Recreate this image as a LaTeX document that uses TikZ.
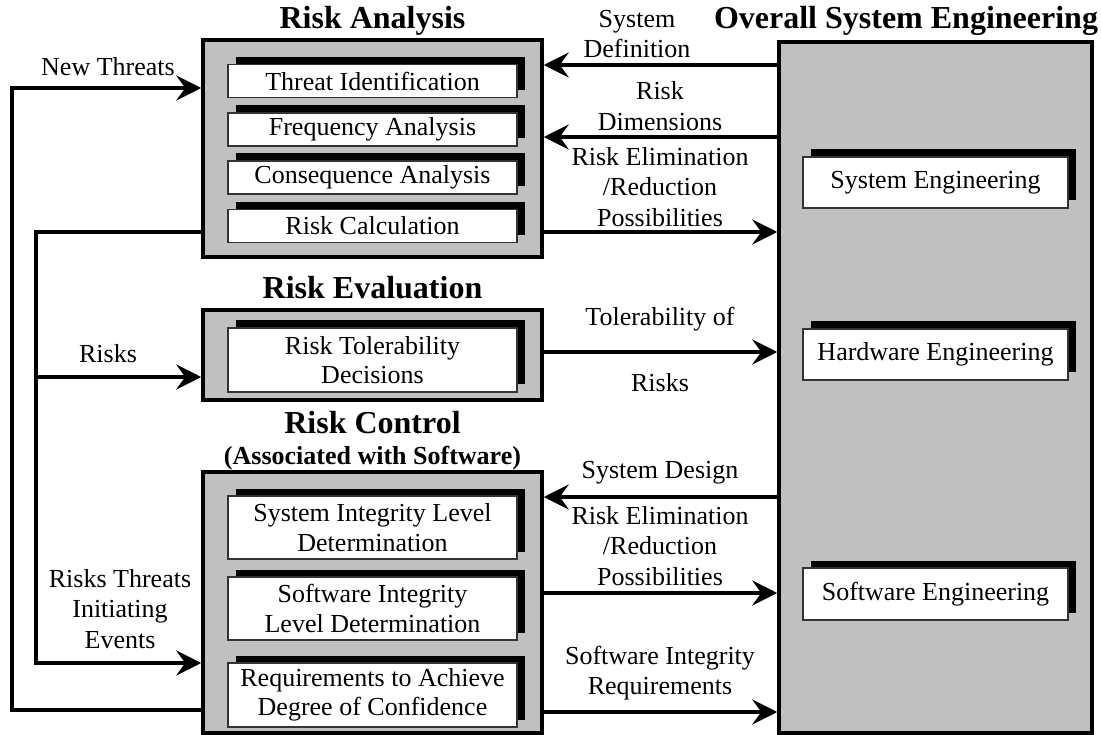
\documentclass[tikz,border=0pt]{standalone}
\usepackage{fontspec}
\setmainfont{Liberation Serif}
\usepackage{tikz}
\usetikzlibrary{arrows.meta,shadows}
\definecolor{panelgray}{RGB}{192,192,192}

\begin{document}
\begin{tikzpicture}[x=1pt, y=-1pt,
	font=\fontsize{26}{30.5}\selectfont,
	panel/.style={draw, line width=3.5pt, fill=panelgray, inner sep=0pt},
	task/.style={draw=black!80, line width=1.5pt, fill=white, align=center,
		inner sep=0pt, font=\fontsize{26}{29.5}\selectfont,
		drop shadow={shadow xshift=7.5pt, shadow yshift=7.5pt, fill=black, opacity=1}},
	head/.style={font=\bfseries\fontsize{32}{36}\selectfont},
	lbl/.style={align=center},
	flow/.style={line width=4pt, -{Stealth[length=25pt, width=25pt, inset=9pt]}}]
	\useasboundingbox (0,0) rectangle (1101,735);

	% panels
	\node[panel, minimum width=339pt, minimum height=217pt] (analysis) at (372.5,148.5) {};
	\node[panel, minimum width=339pt, minimum height=90pt] (evaluation) at (372.5,355) {};
	\node[panel, minimum width=339pt, minimum height=261pt] (control) at (372.5,602.5) {};
	\node[panel, minimum width=313pt, minimum height=691pt] (overall) at (935.5,387.5) {};

	\node[head] (analysistitle) at (372.5,21) {Risk Analysis};
	\node[head] (evaluationtitle) at (372.5,288) {Risk Evaluation};
	\node[head] (controltitle) at (372.5,423) {Risk Control};
	\node[head, font=\bfseries\fontsize{26}{30}\selectfont] (controlsub) at (372.5,458) {(Associated with Software)};
	\node[head] (overalltitle) at (906,21) {Overall System Engineering};

	% activities
	\node[task, minimum width=289pt, minimum height=33pt] (threat) at (372.5,81) {Threat Identification};
	\node[task, minimum width=289pt, minimum height=33pt] (freq) at (372.5,129.5) {Frequency Analysis};
	\node[task, minimum width=289pt, minimum height=33pt] (conseq) at (372.5,177.5) {Consequence Analysis};
	\node[task, minimum width=289pt, minimum height=33pt] (calc) at (372.5,226) {Risk Calculation};
	\node[task, minimum width=289pt, minimum height=64pt] (toler) at (372.5,360) {Risk Tolerability\\Decisions};
	\node[task, minimum width=289pt, minimum height=63pt] (sil) at (372.5,527.5) {System Integrity Level\\Determination};
	\node[task, minimum width=289pt, minimum height=63pt] (swil) at (372.5,608.5) {Software Integrity\\Level Determination};
	\node[task, minimum width=289pt, minimum height=64pt] (reqs) at (372.5,695) {Requirements to Achieve\\Degree of Confidence};

	\node[task, minimum width=265pt, minimum height=51pt] (syseng) at (935.5,182.5) {System Engineering};
	\node[task, minimum width=265pt, minimum height=51pt] (hweng) at (935.5,354.5) {Hardware Engineering};
	\node[task, minimum width=265pt, minimum height=52pt] (sweng) at (935.5,594) {Software Engineering};

	% flows between overall engineering and the risk panels
	\draw[flow] (overall.west |- 0,65) -- (analysis.east |- 0,65);
	\node[lbl] (sysdef) at (637,34) {System\\Definition};
	\draw[flow] (overall.west |- 0,137) -- (analysis.east |- 0,137);
	\node[lbl] (riskdim) at (660,106) {Risk\\Dimensions};
	\draw[flow] (analysis.east |- 0,232) -- (overall.west |- 0,232);
	\node[lbl] (elimA) at (660,187) {Risk Elimination\\/Reduction\\Possibilities};
	\draw[flow] (evaluation.east |- 0,352) -- (overall.west |- 0,352);
	\node[lbl] (tolA) at (660,319) {Tolerability of};
	\node[lbl] (tolB) at (660,383) {Risks};
	\draw[flow] (overall.west |- 0,497) -- (control.east |- 0,497);
	\node[lbl] (sysdes) at (660,473) {System Design};
	\draw[flow] (control.east |- 0,593) -- (overall.west |- 0,593);
	\node[lbl] (elimB) at (660,546) {Risk Elimination\\/Reduction\\Possibilities};
	\draw[flow] (control.east |- 0,712) -- (overall.west |- 0,712);
	\node[lbl] (swreq) at (660,673) {Software Integrity\\Requirements};

	% feedback loops on the left
	\draw[flow] (control.west |- 0,710) -| (12,88) -- (analysis.west |- 0,88);
	\node[lbl] (newthr) at (108,67) {New Threats};
	\draw[flow] (analysis.west |- 0,232) -| (36,663) -- (control.west |- 0,663);
	\draw[flow] (36,377) -- (evaluation.west |- 0,377);
	\node[lbl] (risks) at (108,354) {Risks};
	\node[lbl] (initev) at (120,609) {Risks Threats\\Initiating\\Events};
\end{tikzpicture}
\end{document}
